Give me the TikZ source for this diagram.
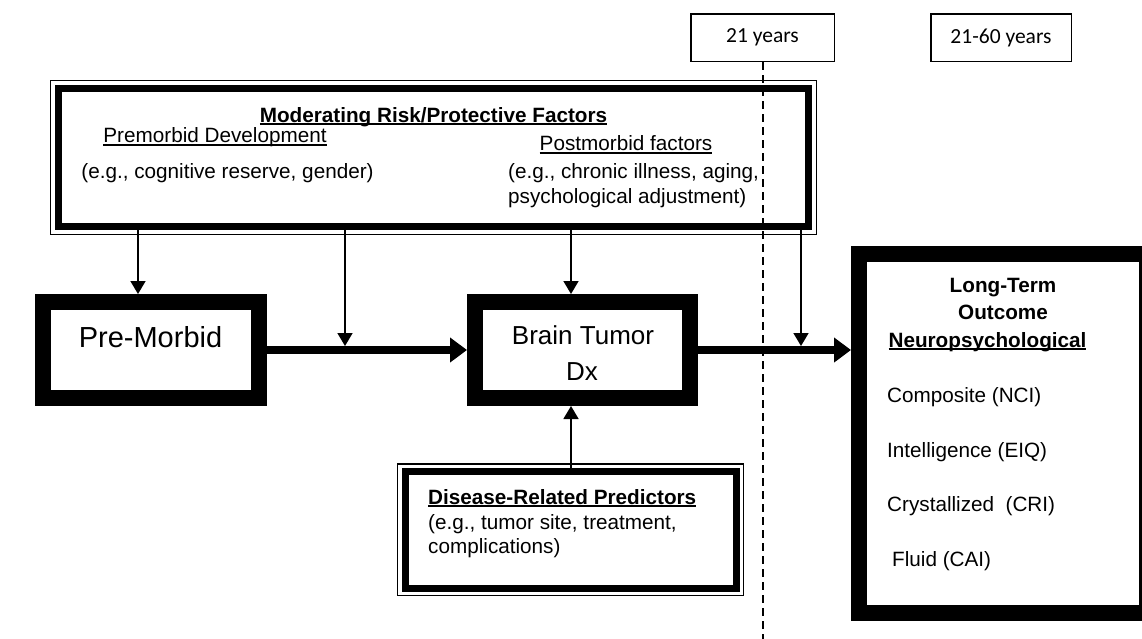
\documentclass[tikz,border=0pt]{standalone}
\usepackage{fontspec}
\setmainfont{Liberation Sans}
\newfontfamily\calfont{Carlito}
\usetikzlibrary{arrows.meta}
\newsavebox\myulbox
\newcommand\myul[1]{\sbox\myulbox{#1}\rlap{\rule[-3pt]{\wd\myulbox}{1.6pt}}\usebox\myulbox}
\begin{document}
\begin{tikzpicture}[x=1pt,y=-1pt,
  bigbox/.style={draw, rectangle, line width=16pt, inner sep=0pt, fill=white},
  dblbox/.style={draw, rectangle, line width=7pt, inner sep=0pt, fill=white},
  yearbox/.style={draw, rectangle, line width=1.5pt, inner sep=0pt, font=\calfont\fontsize{21.5}{25}\selectfont},
  txt/.style={inner sep=0pt, font=\fontsize{20.7}{25}\selectfont},
  fat/.style={line width=8pt, -{Triangle[length=17pt,width=24pt]}},
  slim/.style={line width=1.6pt, -{Triangle[length=13pt,width=15pt]}},
  thinline/.style={line width=1.5pt}]
\useasboundingbox (0,0) rectangle (1142,638);
\clip (0,0) rectangle (1142,638);
\fill[white] (0,0) rectangle (1142,638);

% year boxes
\node[yearbox, minimum width=143.5pt, minimum height=47.5pt] (yr21) at (762.5,37.5) {21 years};
\node[yearbox, minimum width=140.5pt, minimum height=47.5pt] (yr2160) at (1001,37.5) {21-60 years};

% moderating box
\node[dblbox, minimum width=750pt, minimum height=138pt] (mod) at (433.5,157.5) {};
\draw[thinline] ([shift={(-4.5,-4.5)}]mod.north west) rectangle ([shift={(4.5,4.5)}]mod.south east);
\node[txt, anchor=base] (modt) at (433.5,122) {\bfseries\myul{Moderating Risk/Protective Factors}};
\node[txt, anchor=base] (pret) at (215,142.5) {\myul{Premorbid Development}};
\node[txt, anchor=base] (pree) at (227.5,178.5) {(e.g., cognitive reserve, gender)};
\node[txt, anchor=base] (postt) at (626,150.7) {\myul{Postmorbid factors}};
\node[txt, anchor=base west] (poste1) at (508,178.5) {(e.g., chronic illness, aging,};
\node[txt, anchor=base west] (poste2) at (508,203.5) {psychological adjustment)};

% main boxes
\node[bigbox, minimum width=216pt, minimum height=96pt] (pre) at (150.6,350) {};
\node[txt, anchor=base, font=\fontsize{29}{34}\selectfont] (pret2) at (150.5,347) {Pre-Morbid};
\node[bigbox, minimum width=215pt, minimum height=96pt] (brain) at (582.5,350) {};
\node[txt, anchor=base, font=\fontsize{26}{36}\selectfont] (braint) at (583,344) {Brain Tumor};
\node[txt, anchor=base, font=\fontsize{26}{36}\selectfont] (braindx) at (582,380) {Dx};
\node[bigbox, minimum width=288pt, minimum height=359pt] (long) at (1003,433.5) {};
\node[txt, anchor=base] (l1) at (1003,292) {\bfseries Long-Term};
\node[txt, anchor=base] (l2) at (1003,319) {\bfseries Outcome};
\node[txt, anchor=base] (l3) at (987.5,347) {\bfseries\myul{Neuropsychological}};
\node[txt, anchor=base west] (i1) at (887,402) {Composite (NCI)};
\node[txt, anchor=base west] (i2) at (887,457) {Intelligence (EIQ)};
\node[txt, anchor=base west] (i3) at (887,511) {Crystallized\ \ (CRI)};
\node[txt, anchor=base west] (i4) at (892,566) {Fluid (CAI)};

% disease box
\node[dblbox, minimum width=331pt, minimum height=116.5pt] (dis) at (570.5,529.75) {};
\draw[thinline] ([shift={(-4,-4)}]dis.north west) rectangle ([shift={(4,4)}]dis.south east);
\node[txt, anchor=base west] (d1) at (428,504) {\bfseries\myul{Disease-Related Predictors}};
\node[txt, anchor=base west] (d2) at (428,529) {(e.g., tumor site, treatment,};
\node[txt, anchor=base west] (d3) at (428,553) {complications)};

% connectors
\coordinate (c1) at (138,0);
\coordinate (c3) at (571,0);
\coordinate (j1) at (345,346);
\coordinate (j2) at (801,346);
\coordinate (bot) at (0,640);
\draw[fat] (pre.east) -- (brain.west);
\draw[fat] (brain.east) -- (brain.east -| long.west);
\draw[slim] (mod.south -| c1) -- (pre.north -| c1);
\draw[slim] (mod.south -| j1) -- (j1);
\draw[slim] (mod.south -| c3) -- (brain.north -| c3);
\draw[slim] (mod.south -| j2) -- (j2);
\draw[slim] (dis.north -| c3) -- (brain.south -| c3);

% dashed age line
\draw[line width=2pt, dash pattern=on 8pt off 5pt] (yr21.south) -- (yr21.south |- bot);
\end{tikzpicture}
\end{document}
